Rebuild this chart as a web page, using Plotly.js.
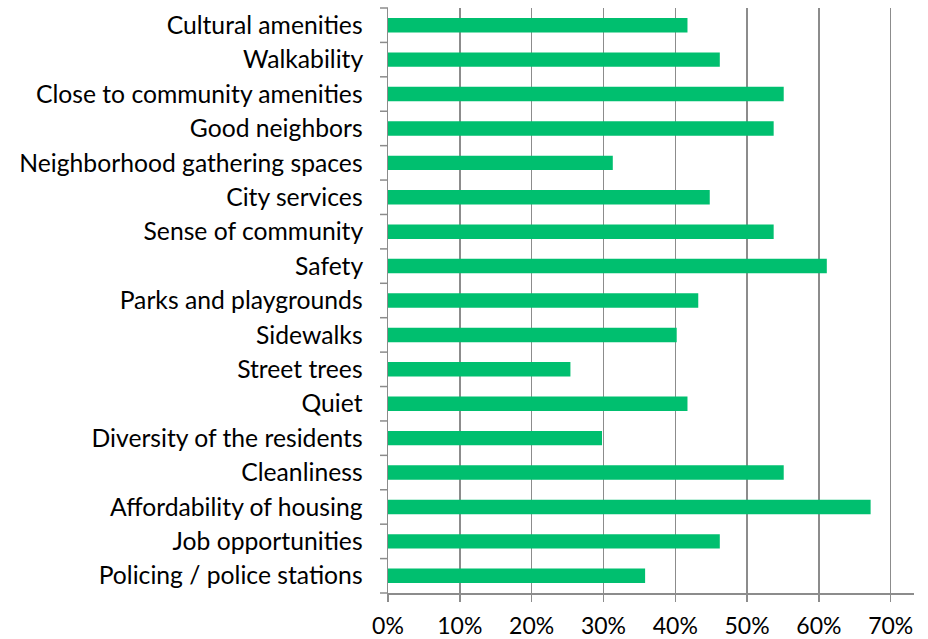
<!DOCTYPE html>
<html>
<head>
<meta charset="utf-8">
<script src="https://cdn.plot.ly/plotly-3.0.1.min.js"></script>
<style>html,body{margin:0;padding:0;background:#fff;}#chart{width:928px;height:639px;}</style>
</head>
<body>
<div id="chart"></div>
<script>
const categories = [
  "Cultural amenities",
  "Walkability",
  "Close to community amenities",
  "Good neighbors",
  "Neighborhood gathering spaces",
  "City services",
  "Sense of community",
  "Safety",
  "Parks and playgrounds",
  "Sidewalks",
  "Street trees",
  "Quiet",
  "Diversity of the residents",
  "Cleanliness",
  "Affordability of housing",
  "Job opportunities",
  "Policing / police stations"
];
const values = [0.417, 0.462, 0.551, 0.537, 0.313, 0.448, 0.537, 0.611, 0.432, 0.402, 0.254, 0.417, 0.298, 0.551, 0.672, 0.462, 0.358];
const xTickVals = [0, 0.1, 0.2, 0.3, 0.4, 0.5, 0.6, 0.7];
const xTickText = ["0%", "10%", "20%", "30%", "40%", "50%", "60%", "70%"];

const W = 928, H = 639;
const margin = {l: 388, r: 14, t: 8, b: 46};
const plotW = W - margin.l - margin.r;
const tickLen = 8;

// y-axis tick marks between categories (Excel style), in axis-domain units
const tickShapes = [];
for (let i = 0; i <= categories.length; i++) {
  const f = 1 - i / categories.length;
  tickShapes.push({
    type: "line", xref: "x domain", yref: "y domain",
    x0: -tickLen / plotW, x1: 0, y0: f, y1: f,
    line: {color: "#8c8c8c", width: 1.5}, layer: "above"
  });
}

const trace = {
  type: "bar",
  orientation: "h",
  x: values,
  y: categories,
  marker: {color: "#00BF6F", line: {width: 0}},
  hoverinfo: "x+y"
};

const layout = {
  width: W,
  height: H,
  margin: margin,
  paper_bgcolor: "#ffffff",
  plot_bgcolor: "#ffffff",
  bargap: 0.58,
  showlegend: false,
  font: {family: "Lato, 'Open Sans', sans-serif", size: 24, color: "#000000"},
  shapes: tickShapes,
  xaxis: {
    range: [0, 0.7324],
    tickvals: xTickVals,
    ticktext: xTickText,
    showgrid: true,
    gridcolor: "#8c8c8c",
    gridwidth: 1.5,
    zeroline: false,
    showline: true,
    linecolor: "#8c8c8c",
    linewidth: 1.5,
    ticks: "outside",
    ticklen: 7,
    tickcolor: "#8c8c8c",
    tickwidth: 1.5,
    ticklabelstandoff: 5,
    tickfont: {size: 23, color: "#000"},
    fixedrange: true
  },
  yaxis: {
    type: "category",
    autorange: "reversed",
    showgrid: false,
    zeroline: false,
    showline: true,
    linecolor: "#8c8c8c",
    linewidth: 1.5,
    ticks: "",
    ticksuffix: "\u00a0\u00a0\u00a0",
    tickfont: {size: 24.7, color: "#000"},
    fixedrange: true
  }
};

Plotly.newPlot("chart", [trace], layout, {displayModeBar: false, staticPlot: true});
</script>
</body>
</html>
